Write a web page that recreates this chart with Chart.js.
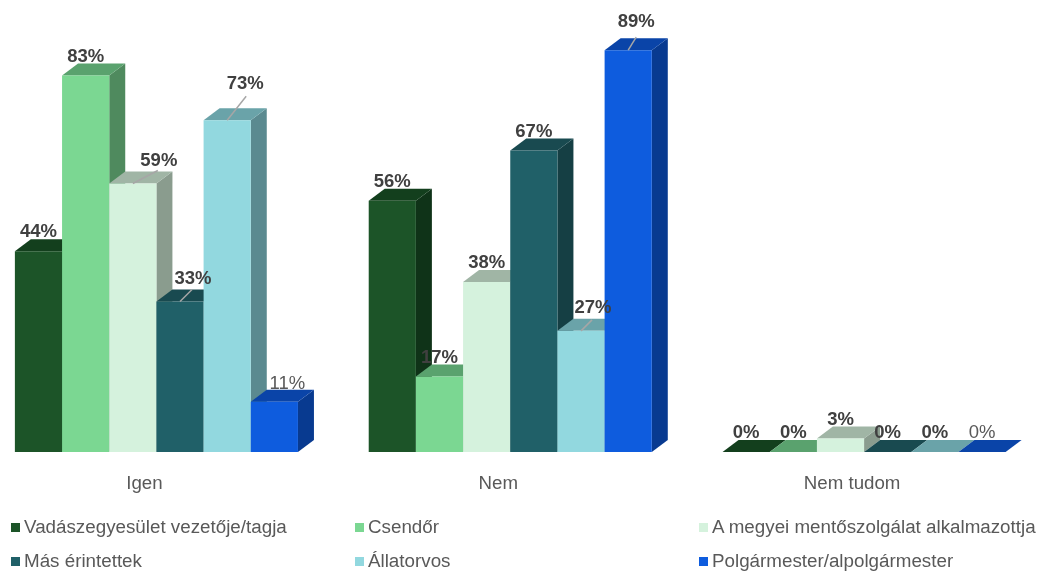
<!DOCTYPE html>
<html lang="hu">
<head>
<meta charset="utf-8">
<title>Chart</title>
<script src="https://cdn.jsdelivr.net/npm/chart.js@4"></script>
<style>
  html, body { margin: 0; padding: 0; background: #fff; overflow: hidden; }
  #wrap { position: relative; width: 1040px; height: 571px; overflow: hidden; }
  #chart { position: absolute; left: -40px; top: 0; }
  .lg { position: absolute; font: 18.8px "Liberation Sans", Arial, sans-serif; color: #595959; white-space: nowrap; line-height: 20px; }
  .lg i { position: absolute; left: -13px; top: 6px; width: 9px; height: 9px; }
</style>
</head>
<body>
<div id="wrap">
  <canvas id="chart" width="1081" height="571"></canvas>
</div>
<script>
'use strict';

const categories = ['Igen', 'Nem', 'Nem tudom'];

const seriesNames = [
  'Vadászegyesület vezetője/tagja',
  'Csendőr',
  'A megyei mentőszolgálat alkalmazottja',
  'Más érintettek',
  'Állatorvos',
  'Polgármester/alpolgármester'
];

const vadasz      = [44.4, 55.6, 0];
const csendor     = [83.3, 16.7, 0];
const mentos      = [59.4, 37.6, 3];
const masErintett = [33.3, 66.7, 0];
const allatorvos  = [73.4, 26.8, 0];
const polgarm     = [11.1, 88.9, 0];

const seriesValues = [vadasz, csendor, mentos, masErintett, allatorvos, polgarm];

// front, top face, side face
const colors = [
  ['#1c5428', '#133f1d', '#0f3318'],
  ['#7bd792', '#5aa26e', '#4f8a5e'],
  ['#d5f2dd', '#a0b5a5', '#8a9c8e'],
  ['#206068', '#194a50', '#153f44'],
  ['#92d8df', '#6aa3a9', '#5b8a90'],
  ['#0e5cde', '#0a44a8', '#083a90']
];

const DEPTH_X = 16;
const DEPTH_Y = 12;

// moved labels: 'dataset-category': [label dx, label dy, leader dx, leader dy]
const movedLabels = {
  '2-0': [26, -23, 25, -13],
  '3-0': [13, -23, 12, -12],
  '4-0': [18, -36, 19, -24],
  '4-1': [12, -23, 11, -11],
  '5-1': [8, -28, 8, -13],
  '5-0': [13, -18]
};

function drawDepth(ctx, bar, c) {
  const l = bar.x - bar.width / 2, r = bar.x + bar.width / 2;
  ctx.fillStyle = c[2];
  ctx.beginPath();
  ctx.moveTo(r, bar.y);
  ctx.lineTo(r + DEPTH_X, bar.y - DEPTH_Y);
  ctx.lineTo(r + DEPTH_X, bar.base - DEPTH_Y);
  ctx.lineTo(r, bar.base);
  ctx.fill();
  ctx.fillStyle = c[1];
  ctx.beginPath();
  ctx.moveTo(l, bar.y);
  ctx.lineTo(l + DEPTH_X, bar.y - DEPTH_Y);
  ctx.lineTo(r + DEPTH_X, bar.y - DEPTH_Y);
  ctx.lineTo(r, bar.y);
  ctx.fill();
}

// paint left to right so each bar covers the side face of the one before it
const paintLeftToRight = {
  id: 'paintLeftToRight',
  beforeDatasetsDraw(chart) {
    chart.data.datasets.forEach((ds, i) => {
      const meta = chart.getDatasetMeta(i);
      meta.data.forEach(bar => drawDepth(chart.ctx, bar, colors[i]));
      meta.controller.draw();
    });
    return false;
  }
};

const valueLabels = {
  id: 'valueLabels',
  afterDraw(chart) {
    const ctx = chart.ctx;
    ctx.save();
    ctx.textAlign = 'center';
    ctx.textBaseline = 'middle';
    chart.data.datasets.forEach((ds, i) => {
      chart.getDatasetMeta(i).data.forEach((bar, j) => {
        const moved = movedLabels[i + '-' + j] || [0, -19];
        if (moved.length > 2) {
          ctx.strokeStyle = '#a6a6a6';
          ctx.lineWidth = 1.5;
          ctx.beginPath();
          ctx.moveTo(bar.x, bar.y);
          ctx.lineTo(bar.x + moved[2], bar.y + moved[3]);
          ctx.stroke();
        }
        const plain = i === 5 && j !== 1;
        ctx.font = (plain ? '' : 'bold ') + '18.5px "Liberation Sans", Arial, sans-serif';
        ctx.fillStyle = plain ? '#595959' : '#404040';
        ctx.fillText(Math.round(ds.data[j]) + '%', bar.x + moved[0], bar.y + moved[1]);
      });
    });
    ctx.restore();
  }
};

const chart = new Chart(document.getElementById('chart'), {
  type: 'bar',
  data: {
    labels: categories,
    datasets: seriesNames.map((name, i) => ({
      label: name,
      data: seriesValues[i],
      backgroundColor: colors[i][0],
      barPercentage: 1,
      categoryPercentage: 0.8
    }))
  },
  options: {
    responsive: false,
    animation: false,
    layout: { padding: { left: 19.5, right: 0, top: 0, bottom: 0 } },
    plugins: { legend: { display: false }, tooltip: { enabled: false } },
    scales: {
      x: {
        grid: { display: false },
        border: { display: false },
        afterFit(scale) { scale.height = 119; },
        ticks: {
          color: '#595959',
          font: { family: '"Liberation Sans", Arial, sans-serif', size: 18.7 },
          labelOffset: -12,
          padding: 13,
          maxRotation: 0
        }
      },
      y: { display: false, min: 0, max: 100 }
    }
  },
  plugins: [paintLeftToRight, valueLabels]
});

// legend in 3 columns, 2 rows
const legendX = [24, 368, 712];
const legendY = [517, 551];
chart.data.datasets.forEach((ds, i) => {
  const el = document.createElement('div');
  el.className = 'lg';
  el.style.left = legendX[i % 3] + 'px';
  el.style.top = legendY[Math.floor(i / 3)] + 'px';
  const mark = document.createElement('i');
  mark.style.background = ds.backgroundColor;
  el.appendChild(mark);
  el.appendChild(document.createTextNode(ds.label));
  document.getElementById('wrap').appendChild(el);
});
</script>
</body>
</html>
